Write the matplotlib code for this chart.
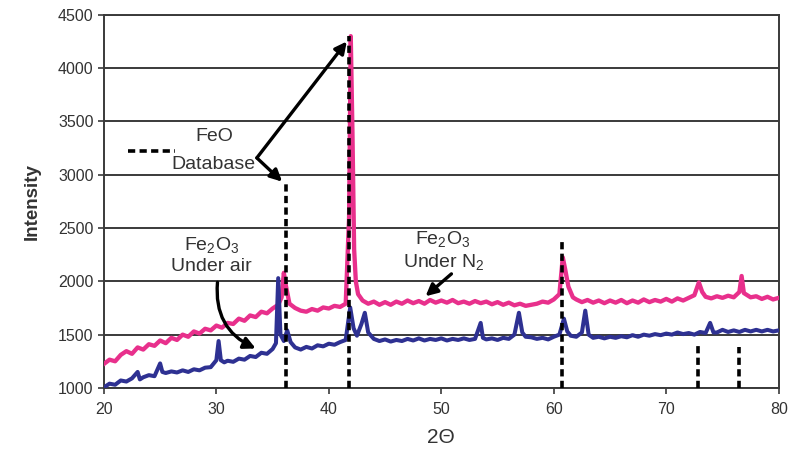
import matplotlib
matplotlib.use("Agg")
import matplotlib.pyplot as plt
from matplotlib.lines import Line2D

plt.rcParams["font.family"] = ["Liberation Sans", "DejaVu Sans"]
plt.rcParams["mathtext.fontset"] = "custom"
plt.rcParams["mathtext.rm"] = "Liberation Sans"
plt.rcParams["mathtext.it"] = "Liberation Sans:italic"
plt.rcParams["mathtext.default"] = "regular"

# Fe2O3 heated under N2 (pink trace)
two_theta_n2 = [
    20.0, 20.5, 21.0, 21.5, 22.0, 22.5, 23.0, 23.5, 24.0, 24.5,
    25.0, 25.5, 26.0, 26.5, 27.0, 27.5, 28.0, 28.5, 29.0, 29.5,
    30.0, 30.5, 31.0, 31.5, 32.0, 32.5, 33.0, 33.5, 34.0, 34.5,
    35.0, 35.5, 35.8, 36.0, 36.2, 36.5, 37.0, 37.5, 38.0, 38.5,
    39.0, 39.5, 40.0, 40.5, 41.0, 41.5, 41.8, 41.95, 42.1, 42.25,
    42.4, 42.6, 43.0, 43.5, 44.0, 44.5, 45.0, 45.5, 46.0, 46.5,
    47.0, 47.5, 48.0, 48.5, 49.0, 49.5, 50.0, 50.5, 51.0, 51.5,
    52.0, 52.5, 53.0, 53.5, 54.0, 54.5, 55.0, 55.5, 56.0, 56.5,
    57.0, 57.5, 58.0, 58.5, 59.0, 59.5, 60.0, 60.5, 60.8, 61.0,
    61.3, 61.7, 62.0, 62.5, 63.0, 63.5, 64.0, 64.5, 65.0, 65.5,
    66.0, 66.5, 67.0, 67.5, 68.0, 68.5, 69.0, 69.5, 70.0, 70.5,
    71.0, 71.5, 72.0, 72.5, 72.9, 73.2, 73.5, 74.0, 74.5, 75.0,
    75.5, 76.0, 76.5, 76.7, 76.9, 77.5, 78.0, 78.5, 79.0, 79.5,
    80.0,
]
intensity_n2 = [
    1225, 1265, 1250, 1310, 1345, 1320, 1380, 1360, 1410, 1395,
    1445, 1420, 1470, 1450, 1500, 1480, 1530, 1510, 1555, 1540,
    1585, 1565, 1610, 1600, 1650, 1630, 1680, 1665, 1715, 1700,
    1745, 1780, 1850, 2080, 1950, 1790, 1750, 1725, 1715, 1740,
    1725, 1755, 1745, 1770, 1760, 1790, 2600, 4300, 3400, 2300,
    2000, 1880, 1820, 1790, 1810, 1780, 1805, 1780, 1810, 1790,
    1820, 1795, 1815, 1790, 1825, 1800, 1820, 1800, 1825, 1795,
    1810, 1790, 1815, 1795, 1810, 1785, 1805, 1780, 1800, 1775,
    1790, 1770, 1780, 1790, 1810, 1800, 1830, 1880, 2225, 2120,
    1950, 1850, 1830, 1805, 1825, 1800, 1820, 1795, 1820, 1800,
    1825, 1795, 1820, 1800, 1830, 1805, 1825, 1810, 1835, 1810,
    1840, 1820, 1845, 1870, 1990, 1900, 1855, 1840, 1860, 1845,
    1865, 1850, 1900, 2050, 1890, 1850, 1860, 1835, 1855, 1830,
    1845,
]

# Fe2O3 heated under air (blue trace)
two_theta_air = [
    20.0, 20.5, 21.0, 21.5, 22.0, 22.5, 23.0, 23.2, 23.5, 24.0,
    24.5, 25.0, 25.2, 25.5, 26.0, 26.5, 27.0, 27.5, 28.0, 28.5,
    29.0, 29.5, 30.0, 30.2, 30.4, 30.7, 31.0, 31.5, 32.0, 32.5,
    33.0, 33.5, 34.0, 34.5, 35.0, 35.3, 35.5, 35.7, 36.0, 36.3,
    36.6, 37.0, 37.5, 38.0, 38.5, 39.0, 39.5, 40.0, 40.5, 41.0,
    41.5, 41.9, 42.2, 42.5, 42.9, 43.2, 43.5, 44.0, 44.5, 45.0,
    45.5, 46.0, 46.5, 47.0, 47.5, 48.0, 48.5, 49.0, 49.5, 50.0,
    50.5, 51.0, 51.5, 52.0, 52.5, 53.0, 53.5, 53.7, 54.0, 54.5,
    55.0, 55.5, 56.0, 56.5, 56.9, 57.2, 57.5, 58.0, 58.5, 59.0,
    59.5, 60.0, 60.5, 60.9, 61.2, 61.5, 62.0, 62.5, 62.8, 63.1,
    63.5, 64.0, 64.5, 65.0, 65.5, 66.0, 66.5, 67.0, 67.5, 68.0,
    68.5, 69.0, 69.5, 70.0, 70.5, 71.0, 71.5, 72.0, 72.5, 73.0,
    73.5, 73.9, 74.2, 74.5, 75.0, 75.5, 76.0, 76.5, 77.0, 77.5,
    78.0, 78.5, 79.0, 79.5, 80.0,
]
intensity_air = [
    1005, 1040, 1030, 1070, 1060, 1090, 1150, 1080, 1100, 1120,
    1110, 1230, 1150, 1140, 1155, 1145, 1165, 1150, 1175, 1165,
    1190, 1195, 1260, 1440, 1260, 1240, 1255, 1245, 1275, 1265,
    1300, 1290, 1330, 1320, 1365, 1420, 2030, 1500, 1440, 1540,
    1430, 1380, 1360, 1385, 1370, 1400, 1390, 1415, 1405, 1430,
    1450, 1755, 1560, 1490, 1600, 1705, 1520, 1460, 1440, 1455,
    1435, 1450, 1440, 1460, 1445, 1465, 1445, 1460, 1450, 1465,
    1445, 1460, 1450, 1465, 1450, 1460, 1610, 1470, 1455, 1465,
    1450, 1470, 1460, 1500, 1705, 1520, 1480, 1475, 1460, 1470,
    1455, 1480, 1500, 1650, 1530, 1490, 1480, 1520, 1725, 1500,
    1470, 1480, 1465, 1480, 1470, 1485, 1475, 1495, 1480, 1500,
    1490, 1505, 1495, 1510, 1500, 1520, 1505, 1515, 1500, 1525,
    1515, 1610, 1520, 1520, 1545, 1525, 1540, 1525, 1545, 1530,
    1545, 1530, 1545, 1530, 1540,
]

# FeO reference pattern (database stick positions and heights)
feo_positions = [36.2, 41.8, 60.7, 72.8, 76.5]
feo_heights = [2930, 4300, 2370, 1390, 1380]

x_ticks = [20, 30, 40, 50, 60, 70, 80]
y_ticks = [1000, 1500, 2000, 2500, 3000, 3500, 4000, 4500]

pink = "#E8308C"
navy = "#2E3192"
grid_col = "#3a3a3a"

fig = plt.figure(figsize=(7.93, 4.49), dpi=100)
ax = fig.add_axes([0.131, 0.136, 0.851, 0.831])

ax.set_xlim(20, 80)
ax.set_ylim(1000, 4500)
ax.set_xticks(x_ticks)
ax.set_yticks(y_ticks)
ax.yaxis.grid(True, color=grid_col, linewidth=1.4)
ax.set_axisbelow(True)
for side in ("left", "bottom", "right", "top"):
    ax.spines[side].set_color(grid_col)
    ax.spines[side].set_linewidth(1.4)

ax.plot(two_theta_n2, intensity_n2, color=pink, linewidth=3.1, zorder=3)
ax.plot(two_theta_air, intensity_air, color=navy, linewidth=2.9, zorder=3)

ax.vlines(feo_positions, 1000, feo_heights, colors="black", linewidth=2.6,
          linestyles=(0, (2.0, 1.2)), zorder=4)

ax.tick_params(axis="both", direction="out", length=4, width=1.2,
               colors=grid_col, labelsize=11.5, labelcolor="#333333")
ax.tick_params(axis="x", pad=6)
ax.set_ylabel("Intensity", fontsize=13.5, fontweight="bold", color="#333333",
              labelpad=12)
ax.set_xlabel("2\u0398", fontsize=15, color="#333333", labelpad=8)

# legend entry for the FeO database sticks
ax.add_line(Line2D([22.1, 26.3], [3225, 3225], color="black", linewidth=2.6,
                   linestyle=(0, (2.0, 1.2)), zorder=4))

txt = dict(fontsize=14, color="#333333", ha="center", va="center", zorder=5)
ax.text(29.8, 3356, "FeO", **txt)
ax.text(29.75, 3100, "Database", **txt)
ax.text(29.6, 2340, "Fe$_2$O$_3$", **txt)
ax.text(29.6, 2140, "Under air", **txt)
ax.text(50.1, 2400, "Fe$_2$O$_3$", **txt)
ax.text(50.2, 2180, "Under N$_2$", **txt)

arrow = dict(arrowstyle="-|>,head_length=0.7,head_width=0.35", color="black",
             lw=2.4, shrinkA=0, shrinkB=0)
ax.annotate("", xy=(41.6, 4250), xytext=(33.6, 3158), arrowprops=arrow, zorder=5)
ax.annotate("", xy=(35.85, 2935), xytext=(33.6, 3158), arrowprops=arrow, zorder=5)
ax.annotate("", xy=(33.5, 1370), xytext=(30.1, 1990),
            arrowprops=dict(arrow, connectionstyle="arc3,rad=0.35"), zorder=5)
ax.annotate("", xy=(48.6, 1860), xytext=(50.9, 2070), arrowprops=arrow, zorder=5)

fig.savefig("out.png", dpi=100)
